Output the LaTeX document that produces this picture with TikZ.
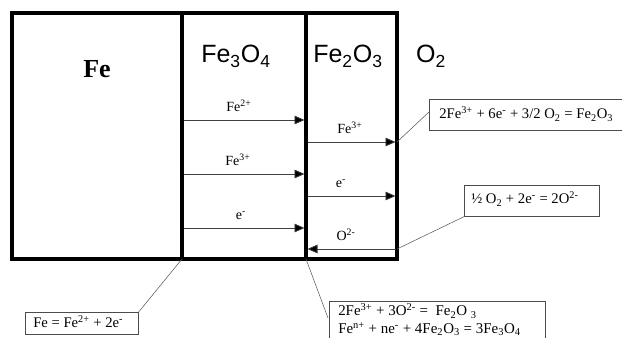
\documentclass[tikz,border=0pt]{standalone}
\usepackage{fontspec}
\setmainfont{Liberation Serif}
\newfontfamily\arialf{Liberation Sans}
\usetikzlibrary{arrows.meta,calc}
\begin{document}
\begin{tikzpicture}[x=0.75pt,y=-0.75pt,
  wall/.style={line width=2.3pt},
  flux/.style={draw=black!75, line width=0.6pt, -{Triangle[length=7.5pt,width=6.5pt,fill=black]}},
  ion/.style={font=\fontsize{10.5}{12}\selectfont, anchor=base, inner sep=0pt},
  eq/.style={font=\fontsize{11}{13}\selectfont, anchor=base west, inner sep=0pt},
  eqbig/.style={font=\fontsize{11.2}{14}\selectfont, anchor=base west, inner sep=0pt},
  eqbox/.style={draw=black!70, line width=0.5pt, fill=white, anchor=north west, inner sep=0pt},
  lead/.style={draw=black!65, line width=0.4pt},
  phase/.style={font=\arialf\fontsize{18.75}{20}\selectfont, anchor=base, inner sep=0pt}]
\useasboundingbox (0,0) rectangle (622,338);
\clip (0,0) rectangle (622,338);
% walls
\coordinate (tl) at (12,13);
\coordinate (br) at (397,259);
\coordinate (m1t) at (182,13);
\coordinate (m1b) at (182,259);
\coordinate (m2t) at (306,13);
\coordinate (m2b) at (306,259);
\draw[wall] (tl) rectangle (br);
\draw[wall] (m1t) -- (m1b);
\draw[wall] (m2t) -- (m2b);
% phase names
\node[font=\bfseries\fontsize{19.5}{20}\selectfont, anchor=base, inner sep=0pt] (fe) at (97,78) {Fe};
\node[phase] (fe3o4) at (236,63) {Fe\textsubscript{3}O\textsubscript{4}};
\node[phase] (fe2o3) at (348,63) {Fe\textsubscript{2}O\textsubscript{3}};
\node[phase] (o2) at (431,63) {O\textsubscript{2}};
% fluxes in Fe3O4
\coordinate (a1s) at (183.5,120); \coordinate (a1e) at (304.5,120);
\coordinate (a2s) at (183.5,174); \coordinate (a2e) at (304.5,174);
\coordinate (a3s) at (183.5,228); \coordinate (a3e) at (304.5,228);
\draw[flux] (a1s) -- (a1e);
\draw[flux] (a2s) -- (a2e);
\draw[flux] (a3s) -- (a3e);
\node[ion] (l1) at (239,112) {Fe\textsuperscript{2+}};
\node[ion] (l2) at (238,166) {Fe\textsuperscript{3+}};
\node[ion] (l3) at (241,220) {e\textsuperscript{-}};
% fluxes in Fe2O3
\coordinate (b1s) at (307.5,142); \coordinate (b1e) at (395.5,142);
\coordinate (b2s) at (307.5,196); \coordinate (b2e) at (395.5,196);
\coordinate (b3s) at (395.5,249); \coordinate (b3e) at (307.5,249);
\draw[flux] (b1s) -- (b1e);
\draw[flux] (b2s) -- (b2e);
\draw[flux] (b3s) -- (b3e);
\node[ion] (k1) at (350,134) {Fe\textsuperscript{3+}};
\node[ion] (k2) at (341,188) {e\textsuperscript{-}};
\node[ion] (k3) at (346,241) {O\textsuperscript{2-}};
% reaction boxes
\node[eqbox, minimum width=160pt, minimum height=23.5pt] (box1) at (429,99) {};
\node[eq] (t1) at (439,119) {2Fe\textsuperscript{3+} + 6e\textsuperscript{-} + 3/2 O\textsubscript{2} = Fe\textsubscript{2}O\textsubscript{3}};
\coordinate (c1) at (397,142);
\draw[lead] (c1) -- ($(box1.north west)+(0,13)$);

\node[eqbox, minimum width=101.25pt, minimum height=23.25pt] (box2) at (464,185) {};
\node[eq] (t2) at (471,204) {½ O\textsubscript{2} + 2e\textsuperscript{-} = 2O\textsuperscript{2-}};
\coordinate (c2) at (397,249);
\draw[lead] (c2) -- (box2.south west);

\node[eqbox, minimum width=162pt, minimum height=45pt] (box3) at (329,301) {};
\node[eqbig] (t3a) at (338,316) {2Fe\textsuperscript{3+} + 3O\textsuperscript{2-} =\ \ Fe\textsubscript{2}O \textsubscript{3}};
\node[eqbig] (t3b) at (338,333.5) {Fe\textsuperscript{n+} + ne\textsuperscript{-} + 4Fe\textsubscript{2}O\textsubscript{3} = 3Fe\textsubscript{3}O\textsubscript{4}};
\draw[lead] (m2b) -- ($(box3.north west)+(-1,17)$);

\node[eqbox, minimum width=84.75pt, minimum height=16.5pt] (box4) at (25,312) {};
\node[eq] (t4) at (33,328) {Fe = Fe\textsuperscript{2+} + 2e\textsuperscript{-}};
\draw[lead] (m1b) -- (box4.north east);
\end{tikzpicture}
\end{document}
